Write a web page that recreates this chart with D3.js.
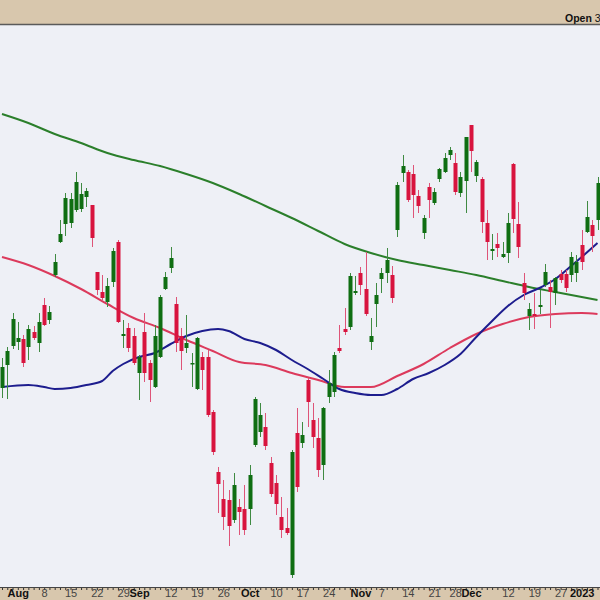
<!DOCTYPE html>
<html><head><meta charset="utf-8">
<script src="https://cdn.jsdelivr.net/npm/d3@7"></script>
<style>html,body{margin:0;padding:0;background:#fff;}svg{display:block;}</style>
</head><body>
<svg id="c" width="600" height="600"></svg>
<script>
// ---------------- DATA ----------------
const dates = ["2022-07-27","2022-07-28","2022-07-29","2022-08-01","2022-08-02","2022-08-03","2022-08-04","2022-08-05","2022-08-08","2022-08-09","2022-08-10","2022-08-11","2022-08-12","2022-08-15","2022-08-16","2022-08-17","2022-08-18","2022-08-19","2022-08-22","2022-08-23","2022-08-24","2022-08-25","2022-08-26","2022-08-29","2022-08-30","2022-08-31","2022-09-01","2022-09-02","2022-09-06","2022-09-07","2022-09-08","2022-09-09","2022-09-12","2022-09-13","2022-09-14","2022-09-15","2022-09-16","2022-09-19","2022-09-20","2022-09-21","2022-09-22","2022-09-23","2022-09-26","2022-09-27","2022-09-28","2022-09-29","2022-09-30","2022-10-03","2022-10-04","2022-10-05","2022-10-06","2022-10-07","2022-10-10","2022-10-11","2022-10-12","2022-10-13","2022-10-14","2022-10-17","2022-10-18","2022-10-19","2022-10-20","2022-10-21","2022-10-24","2022-10-25","2022-10-26","2022-10-27","2022-10-28","2022-10-31","2022-11-01","2022-11-02","2022-11-03","2022-11-04","2022-11-07","2022-11-08","2022-11-09","2022-11-10","2022-11-11","2022-11-14","2022-11-15","2022-11-16","2022-11-17","2022-11-18","2022-11-21","2022-11-22","2022-11-23","2022-11-25","2022-11-28","2022-11-29","2022-11-30","2022-12-01","2022-12-02","2022-12-05","2022-12-06","2022-12-07","2022-12-08","2022-12-09","2022-12-12","2022-12-13","2022-12-14","2022-12-15","2022-12-16","2022-12-19","2022-12-20","2022-12-21","2022-12-22","2022-12-23","2022-12-27","2022-12-28","2022-12-29","2022-12-30","2023-01-03","2023-01-04","2023-01-05","2023-01-06"];
const open  = [212,235,254,258,261,253,268,257,295,280,325,358,376,377,390,391,403,395,328,308,298,318,358,264,272,264,227,268,237,213,243,311,332,296,264,252,236,211,243,243,188,128,101,100,80,93,91,91,155,168,173,137,117,83,72,25,167,157,220,180,162,135,203,208,252,271,273,307,327,311,258,296,321,327,325,370,427,428,426,404,367,413,397,421,428,445,437,407,419,475,424,421,377,349,356,343,347,436,376,317,284,286,293,315,313,307,326,326,325,327,355,368,375,380];
const high  = [242,253,287,278,265,275,274,287,302,294,346,380,407,407,428,417,412,395,328,325,322,352,360,280,277,272,245,287,240,275,305,328,353,303,272,285,247,263,248,250,190,133,120,110,127,101,115,135,203,197,187,143,125,103,92,150,192,178,222,197,182,193,230,248,275,292,327,324,333,348,282,317,332,352,334,418,445,430,435,410,385,417,412,432,447,453,447,428,463,475,440,423,390,366,367,358,387,437,398,327,297,307,310,336,320,323,330,330,348,345,370,399,380,423];
const low   = [202,201,251,250,233,240,260,248,274,276,323,357,364,372,388,388,393,353,305,300,293,313,277,252,248,235,200,218,198,212,242,310,327,248,230,247,213,210,210,183,145,87,70,54,77,65,65,75,153,163,150,103,85,62,65,22,108,152,173,152,123,120,197,203,247,265,270,305,305,284,250,273,307,317,297,363,418,398,382,387,361,382,395,418,427,440,405,403,387,428,418,367,340,340,343,342,337,367,342,300,270,271,286,313,272,295,317,308,318,318,330,367,348,370];
const close = [233,249,281,262,237,271,262,278,275,288,338,366,402,401,418,406,409,362,310,302,314,349,278,266,252,237,243,227,220,264,303,323,342,257,249,257,237,262,230,185,148,116,83,74,115,88,70,125,201,185,154,106,96,70,67,148,113,165,198,163,130,192,217,245,249,268,324,309,315,286,264,305,327,340,302,415,434,400,405,394,382,400,408,431,442,450,408,423,463,449,438,378,358,351,352,346,377,381,353,307,291,284,295,328,308,322,320,312,343,338,338,383,364,417];

// moving averages at sample dates
const maLongDates  = ["2022-07-27","2022-08-03","2022-08-10","2022-08-17","2022-08-24","2022-08-31","2022-09-08","2022-09-15","2022-09-22","2022-09-29","2022-10-06","2022-10-13","2022-10-20","2022-10-27","2022-11-03","2022-11-10","2022-11-17","2022-11-25","2022-12-02","2022-12-09","2022-12-16","2022-12-23","2023-01-03","2023-01-06"];
const maLong  = [486,477,466,457,447,440,434,426,417,406,394,382,369,356,347,340,335,330,325,319,313,308,303,300];
const maMid   = [343,335,324,311,296,282,272,260,249,238,235,227,220,213,213,224,236,252,266,276,283,286,287,286];
const maShortDates = ["2022-07-27","2022-08-03","2022-08-08","2022-08-10","2022-08-15","2022-08-18","2022-08-23","2022-08-25","2022-08-29","2022-09-01","2022-09-07","2022-09-12","2022-09-15","2022-09-20","2022-09-23","2022-09-27","2022-09-30","2022-10-05","2022-10-10","2022-10-13","2022-10-18","2022-10-21","2022-10-26","2022-10-31","2022-11-03","2022-11-07","2022-11-10","2022-11-15","2022-11-18","2022-11-23","2022-11-29","2022-12-02","2022-12-07","2022-12-12","2022-12-15","2022-12-20","2022-12-23","2022-12-29","2023-01-03","2023-01-06"];
const maShort = [213,215,213,211,212,215,219,229,236,243,247,256,264,269,271,269,261,257,250,240,231,221,211,207,205,205,211,221,227,235,246,263,279,294,305,312,321,334,343,357];

const tickDates  = ["2022-08-01","2022-08-08","2022-08-15","2022-08-22","2022-08-29","2022-09-01","2022-09-12","2022-09-19","2022-09-26","2022-10-03","2022-10-10","2022-10-17","2022-10-24","2022-11-01","2022-11-07","2022-11-14","2022-11-21","2022-11-28","2022-12-01","2022-12-12","2022-12-19","2022-12-27","2023-01-03"];
const tickLabels = ["Aug","8","15","22","29","Sep","12","19","26","Oct","10","17","24","Nov","7","14","21","28","Dec","12","19","27","2023"];
const boldLabels = ["Aug","Sep","Oct","Nov","Dec","2023"];
const headerLabel = "Open";
const headerValue = "3";

// ---------------- CHART ----------------
const W = 600, H = 600;
const plotTop = 25, plotBottom = 587;
const svg = d3.select("#c");

const candles = dates.map((d,i)=>({date:d, o:open[i], h:high[i], l:low[i], c:close[i]}));

const x = d3.scalePoint().domain(dates).range([2, 597.5]);
const y = d3.scaleLinear().domain([13, 575]).range([plotBottom, plotTop]);

// backgrounds
svg.append("rect").attr("x",0).attr("y",0).attr("width",W).attr("height",H).attr("fill","#eef0f6");
svg.append("rect").attr("x",0).attr("y",0).attr("width",W).attr("height",24).attr("fill","#d8c7ad");
svg.append("line").attr("x1",0).attr("x2",W).attr("y1",24.5).attr("y2",24.5).attr("stroke","#5a5a5a").attr("stroke-width",1.5);
svg.append("rect").attr("x",0).attr("y",plotBottom).attr("width",W).attr("height",H-plotBottom).attr("fill","#d8c7ad");

svg.append("defs").append("clipPath").attr("id","clip")
  .append("rect").attr("x",0).attr("y",plotTop+1).attr("width",W).attr("height",plotBottom-plotTop-1);

const plot = svg.append("g").attr("clip-path","url(#clip)");

// moving averages
const line = d3.line().x(d=>x(d[0])).y(d=>y(d[1])).curve(d3.curveMonotoneX);
plot.append("path").datum(maLongDates.map((d,i)=>[d,maLong[i]]))
  .attr("d",line).attr("fill","none").attr("stroke","#2b7f2b").attr("stroke-width",2);
plot.append("path").datum(maLongDates.map((d,i)=>[d,maMid[i]]))
  .attr("d",line).attr("fill","none").attr("stroke","#dc3a5c").attr("stroke-width",2);
plot.append("path").datum(maShortDates.map((d,i)=>[d,maShort[i]]))
  .attr("d",line).attr("fill","none").attr("stroke","#1d1d8e").attr("stroke-width",2);

// candles
const GREEN = "#0f6e12", RED = "#d8143e";
const cg = plot.append("g").selectAll("g").data(candles).join("g");
cg.append("line")
  .attr("x1",d=>Math.round(x(d.date))+0.5).attr("x2",d=>Math.round(x(d.date))+0.5)
  .attr("y1",d=>y(d.h)).attr("y2",d=>y(d.l))
  .attr("stroke",d=>d.c>=d.o?"#3f8a42":"#de5478").attr("stroke-width",1);
cg.append("rect")
  .attr("x",d=>Math.round(x(d.date))-1.5).attr("width",4)
  .attr("y",d=>y(Math.max(d.o,d.c)))
  .attr("height",d=>Math.max(1.5, Math.abs(y(d.o)-y(d.c))))
  .attr("fill",d=>d.c>=d.o?GREEN:RED);

// x axis: daily minor ticks
const axMinor = d3.axisTop(x).tickValues(dates).tickSize(2).tickFormat("");
const gMinor = svg.append("g").attr("transform",`translate(0,${plotBottom+3})`).call(axMinor);
gMinor.select(".domain").remove();
gMinor.selectAll(".tick line").attr("stroke","#333");
svg.append("line").attr("x1",0).attr("x2",W).attr("y1",plotBottom+0.5).attr("y2",plotBottom+0.5).attr("stroke","#444").attr("stroke-width",1);

const lab = d3.scaleOrdinal().domain(tickDates).range(tickLabels);
const axLab = d3.axisBottom(x).tickValues(tickDates).tickSize(0).tickPadding(0).tickFormat(d=>lab(d));
const gLab = svg.append("g").attr("transform",`translate(0,${plotBottom})`).call(axLab);
gLab.select(".domain").remove();
gLab.selectAll(".tick text")
  .attr("font-family","Liberation Sans, Arial, sans-serif")
  .attr("font-size",11)
  .attr("dy","0.95em")
  .attr("font-weight",d=>boldLabels.includes(lab(d))?"bold":"normal")
  .attr("fill",d=>boldLabels.includes(lab(d))?"#111":"#444");

// header text
const ht = svg.append("text").attr("x",565).attr("y",22)
  .attr("font-family","Liberation Sans, Arial, sans-serif").attr("font-size",10.5).attr("fill","#111");
ht.append("tspan").attr("font-weight","bold").text(headerLabel);
ht.append("tspan").attr("dx",3).text(headerValue);
</script>
</body></html>
